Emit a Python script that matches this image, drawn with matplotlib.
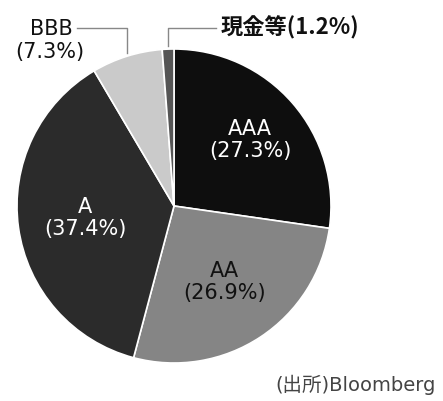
import numpy as np
import matplotlib
matplotlib.use('Agg')
import matplotlib.pyplot as plt

plt.rcParams['font.family'] = ['DejaVu Sans', 'Noto Sans CJK JP']

# clockwise from 12 o'clock
labels = ['AAA', 'AA', 'A', 'BBB', '現金等']
shares = [27.3, 26.9, 37.4, 7.3, 1.2]
colors = ['#0e0e0e', '#858585', '#2b2b2b', '#cacaca', '#555555']
inside_color = ['white', '#111111', 'white']
inside_r = [0.64, 0.58, 0.57]

W, H = 443, 401
fig = plt.figure(figsize=(W / 100, H / 100), dpi=100)
ax = fig.add_axes([0, 0, 1, 1])

cx, cy, R = 174, H - 206, 157
wedges, _ = ax.pie(shares, colors=colors, startangle=90, counterclock=False,
                   center=(cx, cy), radius=R, frame=True,
                   wedgeprops=dict(edgecolor='white', linewidth=1.2))
ax.set_xlim(0, W)
ax.set_ylim(0, H)
ax.axis('off')

def mid(w):
    a = np.deg2rad((w.theta1 + w.theta2) / 2)
    return np.cos(a), np.sin(a)

# labels inside the big slices
for i in range(3):
    ux, uy = mid(wedges[i])
    x, y = cx + ux * R * inside_r[i], cy + uy * R * inside_r[i]
    ax.text(x, y, labels[i] + '\n(' + f'{shares[i]}%' + ')', ha='center', va='center',
            color=inside_color[i], fontsize=15, linespacing=1.1)

# leader lines for the small slices
ly = H - 28
ux, uy = mid(wedges[3])
ex, ey = cx + ux * R, cy + uy * R
ax.plot([77, ex, ex], [ly, ly, ey + 3], color='#888888', lw=1)
ax.text(73, ly - 1, labels[3], ha='right', va='center', fontsize=15, color='#111111')
ax.text(50, H - 52, f'({shares[3]}%)', ha='center', va='center', fontsize=15, color='#111111')

ux, uy = mid(wedges[4])
ex, ey = cx + ux * R, cy + uy * R
ax.plot([216, ex, ex], [ly, ly, ey + 3], color='#888888', lw=1)
ax.text(221, ly, f'{labels[4]}({shares[4]}%)', ha='left', va='center', fontsize=16,
        color='#111111', fontweight='bold', family=['Noto Sans CJK JP'])

ax.text(436, H - 385, '(出所)Bloomberg', ha='right', va='center', fontsize=14, color='#444444')

fig.savefig('out.png', dpi=100, facecolor='white')
